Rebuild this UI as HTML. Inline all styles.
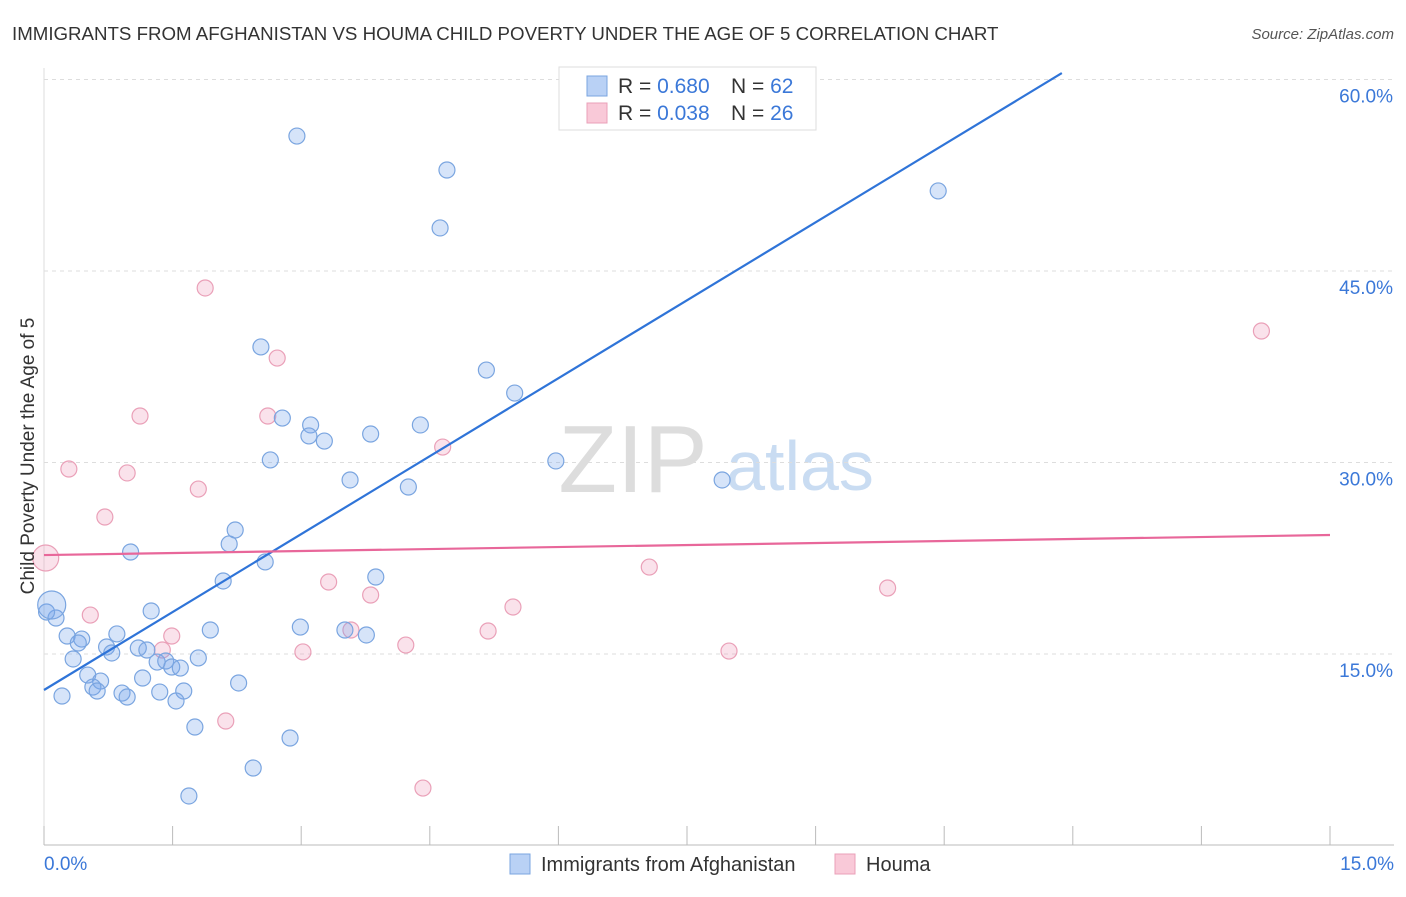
<!DOCTYPE html>
<html><head><meta charset="utf-8"><style>
body{margin:0;background:#fff;font-family:"Liberation Sans",sans-serif}
svg text{font-family:"Liberation Sans",sans-serif}
</style></head><body>
<svg id="chart" width="1406" height="892" xmlns="http://www.w3.org/2000/svg">
<text x="12" y="40" font-size="18.7" fill="#333">IMMIGRANTS FROM AFGHANISTAN VS HOUMA CHILD POVERTY UNDER THE AGE OF 5 CORRELATION CHART</text>
<text x="1394" y="39" font-size="15" fill="#555" font-style="italic" text-anchor="end">Source: ZipAtlas.com</text>
<g><text x="633" y="492" font-size="96" fill="#ddd" font-family="Liberation Serif" text-anchor="middle">ZIP</text><text x="800" y="490" font-size="70" fill="#c9dcf2" text-anchor="middle">atlas</text></g>
<g id="grid"></g><g id="axes"></g><g id="marks"></g>
<text transform="translate(34,456) rotate(-90)" font-size="19" fill="#333" text-anchor="middle">Child Poverty Under the Age of 5</text>
<g>
<rect x="559" y="67" width="257" height="63" fill="#fff" stroke="#ddd"/>
<rect x="587" y="76" width="20" height="20" fill="#b9d1f5" stroke="#7aa5e0"/>
<text x="618" y="93" font-size="21" fill="#333">R = <tspan fill="#3b78d8">0.680</tspan></text>
<text x="731" y="93" font-size="21" fill="#333">N = <tspan fill="#3b78d8">62</tspan></text>
<rect x="587" y="103" width="20" height="20" fill="#f9c9d8" stroke="#eaa0b8"/>
<text x="618" y="120" font-size="21" fill="#333">R = <tspan fill="#3b78d8">0.038</tspan></text>
<text x="731" y="120" font-size="21" fill="#333">N = <tspan fill="#3b78d8">26</tspan></text>
</g>
<g>
<rect x="510" y="854" width="20" height="20" fill="#b9d1f5" stroke="#7aa5e0"/>
<text x="541" y="871" font-size="20" fill="#333">Immigrants from Afghanistan</text>
<rect x="835" y="854" width="20" height="20" fill="#f9c9d8" stroke="#eaa0b8"/>
<text x="866" y="871" font-size="20" fill="#333">Houma</text>
</g>
</svg>
<script>
const blueX=[2.95,4.70,4.62,10.43,2.53,5.16,5.49,2.78,3.11,3.09,3.27,3.81,4.39,2.64,5.97,3.57,4.25,7.91,2.23,2.16,1.01,2.58,3.87,2.09,1.25,0.14,0.27,0.44,0.40,0.85,0.73,0.79,1.10,1.20,1.94,2.99,3.51,3.76,0.34,1.32,1.42,1.49,1.59,1.80,0.51,1.15,0.66,0.57,0.62,0.91,0.97,1.35,1.63,1.54,0.21,2.27,1.76,2.87,2.44,1.69,0.03];
const blueY=[55.57,52.91,48.37,51.27,39.05,37.24,35.44,33.48,32.94,32.08,31.68,32.23,32.94,30.20,30.12,28.63,28.08,28.63,24.71,23.62,22.99,22.21,21.03,20.72,18.37,17.82,16.41,16.17,15.86,16.57,15.55,15.08,15.47,15.31,16.88,17.11,16.88,16.49,14.61,14.37,14.45,13.98,13.90,14.69,13.35,13.12,12.88,12.41,12.10,11.94,11.63,12.02,12.10,11.32,11.71,12.73,9.28,8.42,6.07,3.88,18.29];
const pinkX=[0.29,0.97,1.12,1.88,2.72,2.61,1.80,0.71,0.54,1.49,1.38,3.02,3.32,3.58,3.81,4.22,4.65,5.18,5.47,7.06,7.99,9.84,14.20,2.12,4.42];
const pinkY=[29.49,29.18,33.64,43.67,38.18,33.64,27.92,25.73,18.05,16.41,15.31,15.16,20.64,16.88,19.62,15.70,31.21,16.80,18.68,21.81,15.23,20.17,40.30,9.75,4.50];
const bigBlue=[0.09,18.84], bigPink=[0.02,22.52];
const blueLine=[12.18,4.07];
const pinkLine=[22.75,24.32];
const yTicks=[15,30,45,60];
const xTicks=[0,1.5,3,4.5,6,7.5,9,10.5,12,13.5,15];
const NS="http://www.w3.org/2000/svg";
const X=v=>44+v/15*1286, Y=v=>845.5-v*12.767;
function mk(t,a,p){const e=document.createElementNS(NS,t);for(const k in a)e.setAttribute(k,a[k]);document.getElementById(p).appendChild(e);return e;}
yTicks.forEach(t=>{
 const g=mk('line',{x1:44,x2:1394,y1:Y(t),y2:Y(t),stroke:'#ddd','stroke-dasharray':'4,4'},'grid');
 
 
 const l=mk('text',{x:1393,y:Y(t)+23,'font-size':19,fill:'#3b78d8','text-anchor':'end'},'axes');l.textContent=t.toFixed(1)+'%';
 
 
});
const ax=mk('line',{x1:44,x2:1394,y1:845,y2:845,stroke:'#bbb'},'axes');


const ay=mk('line',{x1:44,x2:44,y1:68,y2:845,stroke:'#ddd'},'axes');


xTicks.forEach(t=>{
 const e=mk('line',{x1:X(t),x2:X(t),y1:826,y2:845,stroke:'#bbb'},'axes');
 
 
});
const xl=mk('text',{x:44,y:870,'font-size':19,fill:'#3b78d8'},'axes');xl.textContent='0.0%';


const xr=mk('text',{x:1394,y:870,'font-size':19,fill:'#3b78d8','text-anchor':'end'},'axes');xr.textContent='15.0%';


function dot(x,y,r,c,n){const e=mk('circle',{cx:X(x),cy:Y(y),r:r,fill:c[0],stroke:c[1],'stroke-width':1.2},'marks');
 
 }
const BC=['rgba(120,165,235,0.3)','#7aa5e0'],PC=['rgba(240,160,190,0.3)','#eaa0b8'];
pinkX.forEach((x,i)=>dot(x,pinkY[i],8,PC,'houma-point'));
dot(bigPink[0],bigPink[1],13,PC,'houma-point');
blueX.forEach((x,i)=>dot(x,blueY[i],8,BC,'afghanistan-point'));
dot(bigBlue[0],bigBlue[1],14,BC,'afghanistan-point');
const xe=(60.5-blueLine[0])/blueLine[1];
const bl=mk('line',{x1:X(0),y1:Y(blueLine[0]),x2:X(xe),y2:Y(blueLine[0]+blueLine[1]*xe),stroke:'#2f74d8','stroke-width':2.2},'marks');


const pl=mk('line',{x1:X(0),y1:Y(pinkLine[0]),x2:X(15),y2:Y(pinkLine[1]),stroke:'#e8679a','stroke-width':2.2},'marks');


</script>
</body></html>
